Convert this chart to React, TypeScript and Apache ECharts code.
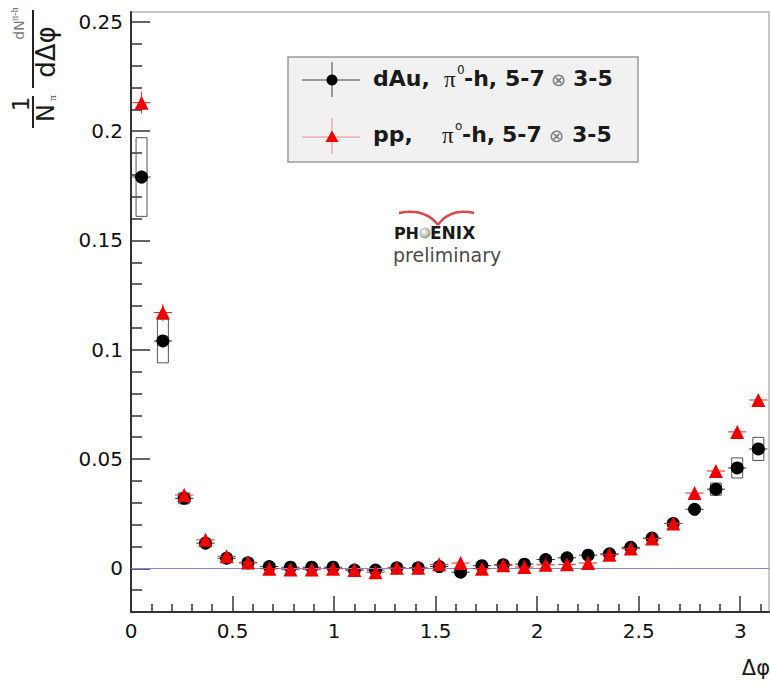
import React, { useEffect, useRef } from "react";
import * as echarts from "echarts";

// Δφ bin centres (30 bins over 0..π)
const BIN_CENTERS = [
  0.052, 0.157, 0.262, 0.367, 0.471, 0.576, 0.681, 0.785, 0.89, 0.995,
  1.1, 1.204, 1.309, 1.414, 1.518, 1.623, 1.728, 1.833, 1.937, 2.042,
  2.147, 2.251, 2.356, 2.461, 2.566, 2.67, 2.775, 2.88, 2.985, 3.089,
];
const DAU_VALUES = [
  0.179, 0.104, 0.032, 0.0115, 0.0046, 0.0025, 0.0008, 0.0005, 0.0005, 0.0005,
  -0.0008, -0.0008, 0.0002, 0.0002, 0.0008, -0.0018, 0.0012, 0.0016, 0.0019, 0.004,
  0.0048, 0.006, 0.0066, 0.0096, 0.0138, 0.0205, 0.027, 0.0362, 0.0459, 0.0546,
];
const PP_VALUES = [
  0.213, 0.117, 0.0335, 0.013, 0.0055, 0.0027, -0.0002, -0.0006, -0.0006, -0.0002,
  -0.0008, -0.0018, 0.0002, 0.0002, 0.0018, 0.0024, -0.0002, 0.0014, 0.0006, 0.0016,
  0.0018, 0.0024, 0.0062, 0.009, 0.0136, 0.0205, 0.0344, 0.0445, 0.0624, 0.077,
];
const DAU_STAT_ERR = [
  0.003, 0.0025, 0.0012, 0.0008, 0.0006, 0.0006, 0.0006, 0.0006, 0.0006, 0.0006,
  0.0006, 0.0006, 0.0006, 0.0006, 0.0006, 0.0006, 0.0006, 0.0006, 0.0006, 0.0006,
  0.0006, 0.0006, 0.0006, 0.0007, 0.0008, 0.0009, 0.001, 0.0012, 0.0014, 0.0016,
];
const PP_STAT_ERR = [
  0.005, 0.004, 0.0012, 0.0008, 0.0006, 0.0006, 0.0006, 0.0006, 0.0006, 0.0006,
  0.0006, 0.0006, 0.0006, 0.0006, 0.0006, 0.0006, 0.0006, 0.0006, 0.0006, 0.0006,
  0.0006, 0.0006, 0.0006, 0.0007, 0.0008, 0.0009, 0.001, 0.0012, 0.0014, 0.0016,
];
const DAU_SYS_ERR = [
  0.018, 0.01, 0.0025, 0, 0, 0, 0, 0, 0, 0,
  0, 0, 0, 0, 0, 0, 0, 0, 0, 0,
  0, 0, 0, 0, 0, 0, 0, 0.0028, 0.0046, 0.0053,
];
const X_MAJOR_TICKS = [0, 0.5, 1, 1.5, 2, 2.5, 3];
const X_MINOR_TICKS = [
  0.1, 0.2, 0.3, 0.4, 0.6, 0.7, 0.8, 0.9, 1.1, 1.2, 1.3, 1.4, 1.6, 1.7, 1.8, 1.9,
  2.1, 2.2, 2.3, 2.4, 2.6, 2.7, 2.8, 2.9, 3.1,
];
const Y_MAJOR_TICKS = [0, 0.05, 0.1, 0.15, 0.2, 0.25];
const Y_MINOR_TICKS = [
  -0.01, 0.01, 0.02, 0.03, 0.04, 0.06, 0.07, 0.08, 0.09, 0.11, 0.12, 0.13, 0.14,
  0.16, 0.17, 0.18, 0.19, 0.21, 0.22, 0.23, 0.24,
];
const X_MIN = 0;
const X_MAX = Math.PI;
const Y_MIN = -0.02;
const Y_MAX = 0.2545;
const HALF_BIN = 0.045;
const BOX_HALF = 0.027;

const FONT = "DejaVu Sans, Liberation Sans, Arial, sans-serif";
const SER = "Liberation Serif, DejaVu Serif, serif";

function errRender(color: string) {
  return (params: any, api: any) => {
    const x = api.value(0);
    const y = api.value(1);
    const e = api.value(2);
    const l = api.coord([x - HALF_BIN, y]);
    const r = api.coord([x + HALF_BIN, y]);
    const t = api.coord([x, y + e]);
    const b = api.coord([x, y - e]);
    return {
      type: "group",
      children: [
        { type: "line", shape: { x1: l[0], y1: l[1], x2: r[0], y2: r[1] }, style: { stroke: color, lineWidth: 1 } },
        { type: "line", shape: { x1: t[0], y1: t[1], x2: b[0], y2: b[1] }, style: { stroke: color, lineWidth: 1 } },
      ],
    };
  };
}

function boxRender(params: any, api: any) {
  const x = api.value(0);
  const y = api.value(1);
  const e = api.value(2);
  const tl = api.coord([x - BOX_HALF, y + e]);
  const br = api.coord([x + BOX_HALF, y - e]);
  return {
    type: "rect",
    shape: { x: tl[0], y: tl[1], width: br[0] - tl[0], height: br[1] - tl[1] },
    style: { fill: "none", stroke: "#555", lineWidth: 1 },
  };
}

function txt(x: number, y: number, text: string, fontSize: number, opts: any = {}) {
  return {
    type: "text",
    x,
    y,
    rotation: opts.rotation || 0,
    z: 100,
    style: {
      text,
      fontSize,
      fontFamily: opts.fontFamily || FONT,
      fontWeight: opts.fontWeight || "normal",
      fill: opts.fill || "#1a1a1a",
      align: opts.align || "left",
      verticalAlign: opts.verticalAlign || "middle",
    },
  };
}

export default function App() {
  const ref = useRef<HTMLDivElement>(null);

  useEffect(() => {
    if (!ref.current) return;
    const chart = echarts.init(ref.current, undefined, { renderer: "svg" });

    const dauPts = BIN_CENTERS.map((x, i) => [x, DAU_VALUES[i]]);
    const ppPts = BIN_CENTERS.map((x, i) => [x, PP_VALUES[i]]);
    const dauErr = BIN_CENTERS.map((x, i) => [x, DAU_VALUES[i], DAU_STAT_ERR[i]]);
    const ppErr = BIN_CENTERS.map((x, i) => [x, PP_VALUES[i], PP_STAT_ERR[i]]);
    const dauSys = BIN_CENTERS.map((x, i) => [x, DAU_VALUES[i], DAU_SYS_ERR[i]]).filter((d) => d[2] > 0);

    const mY1 = 80;
    const mY2 = 137;
    const tY1 = 78;
    const tY2 = 134;
    const B = { fontWeight: "bold" };

    const graphic: any[] = [
      // legend box
      { type: "rect", z: 90, shape: { x: 288, y: 57, width: 350, height: 105 }, style: { fill: "#f1f1f1", stroke: "#9a9a9a", lineWidth: 1.5 } },
      { type: "line", z: 91, shape: { x1: 302, y1: mY1, x2: 360, y2: mY1 }, style: { stroke: "#444", lineWidth: 1 } },
      { type: "line", z: 91, shape: { x1: 332, y1: 62, x2: 332, y2: 97 }, style: { stroke: "#444", lineWidth: 1 } },
      { type: "circle", z: 92, shape: { cx: 332, cy: mY1, r: 5.5 }, style: { fill: "#000" } },
      { type: "line", z: 91, shape: { x1: 302, y1: mY2, x2: 360, y2: mY2 }, style: { stroke: "#f08a8a", lineWidth: 1 } },
      { type: "line", z: 91, shape: { x1: 332, y1: 118, x2: 332, y2: 154 }, style: { stroke: "#f08a8a", lineWidth: 1 } },
      { type: "polygon", z: 92, shape: { points: [[332, mY2 - 6.5], [338.5, mY2 + 5], [325.5, mY2 + 5]] }, style: { fill: "#ee0000" } },
      txt(373, tY1, "dAu,", 22, B),
      txt(444, tY1 + 1, "π", 23, { fontFamily: SER }),
      txt(457, tY1 - 8, "0", 12),
      txt(464, tY1, "-h,", 22, B),
      txt(505, tY1, "5-7", 22, B),
      txt(551, tY1 + 1, "⊗", 18, { fill: "#777" }),
      txt(573, tY1, "3-5", 22, B),
      txt(373, tY2, "pp,", 22, B),
      txt(442, tY2 + 1, "π", 23, { fontFamily: SER }),
      txt(455, tY2 - 8, "o", 12),
      txt(462, tY2, "-h,", 22, B),
      txt(502, tY2, "5-7", 22, B),
      txt(549, tY2 + 1, "⊗", 18, { fill: "#777" }),
      txt(572, tY2, "3-5", 22, B),

      // PHENIX preliminary logo
      { type: "bezierCurve", z: 95, shape: { x1: 399, y1: 213, x2: 438, y2: 225, cpx1: 425, cpy1: 208 }, style: { stroke: "#d84848", lineWidth: 2.5, fill: "none" } },
      { type: "bezierCurve", z: 95, shape: { x1: 438, y1: 225, x2: 474, y2: 213, cpx1: 450, cpy1: 208 }, style: { stroke: "#d84848", lineWidth: 2.5, fill: "none" } },
      txt(419, 233, "PH", 16, { fontWeight: "bold", align: "right" }),
      {
        type: "circle", z: 95, shape: { cx: 425, cy: 233, r: 5.5 },
        style: { fill: { type: "radial", x: 0.4, y: 0.4, r: 0.7, colorStops: [{ offset: 0, color: "#ffffff" }, { offset: 1, color: "#8a8a8a" }] } },
      },
      txt(430, 233, "ENIX", 17, { fontWeight: "bold" }),
      txt(393, 255, "preliminary", 19, { fill: "#4a4a4a" }),

      // y-axis title (rotated)
      { type: "line", z: 100, shape: { x1: 33, y1: 10, x2: 33, y2: 88 }, style: { stroke: "#222", lineWidth: 2 } },
      { type: "line", z: 100, shape: { x1: 33, y1: 96, x2: 33, y2: 128 }, style: { stroke: "#222", lineWidth: 2 } },
      txt(21, 104, "1", 23, { rotation: Math.PI / 2, align: "center" }),
      txt(46, 113, "N", 24, { rotation: Math.PI / 2, align: "center" }),
      txt(52, 98, "π", 11, { rotation: Math.PI / 2, align: "center", fontFamily: SER }),
      txt(46, 52, "dΔφ", 26, { rotation: Math.PI / 2, align: "center" }),
      txt(19, 30, "dN", 14, { rotation: Math.PI / 2, align: "center", fill: "#777" }),
      txt(14, 14, "π-h", 10, { rotation: Math.PI / 2, align: "center", fill: "#555", fontFamily: SER }),

      // x-axis title
      txt(770, 668, "Δφ", 21, { align: "right" }),
    ];

    const axisLabelStyle = { fontSize: 20, fontFamily: FONT, color: "#111" };

    chart.setOption({
      animation: false,
      backgroundColor: "#ffffff",
      grid: { left: 131, top: 12, width: 638, height: 600, show: true, borderColor: "#c8c8c8", borderWidth: 2, backgroundColor: "transparent" },
      xAxis: [
        {
          type: "value", min: X_MIN, max: X_MAX, position: "bottom",
          axisLine: { show: true, onZero: false, lineStyle: { color: "#333", width: 2 } },
          axisTick: { show: true, inside: true, length: 16, customValues: X_MAJOR_TICKS, lineStyle: { color: "#333", width: 1.5 } },
          axisLabel: { show: true, customValues: X_MAJOR_TICKS, margin: 9, ...axisLabelStyle, formatter: (v: number) => String(v) },
          splitLine: { show: false },
        },
        {
          type: "value", min: X_MIN, max: X_MAX, position: "bottom", offset: 0,
          axisLine: { show: false, onZero: false },
          axisTick: { show: true, inside: true, length: 8, customValues: X_MINOR_TICKS, lineStyle: { color: "#333", width: 1.5 } },
          axisLabel: { show: false },
          splitLine: { show: false },
        },
      ],
      yAxis: [
        {
          type: "value", min: Y_MIN, max: Y_MAX, position: "left",
          axisLine: { show: true, onZero: false, lineStyle: { color: "#333", width: 2 } },
          axisTick: { show: true, inside: true, length: 19, customValues: Y_MAJOR_TICKS, lineStyle: { color: "#333", width: 1.5 } },
          axisLabel: { show: true, customValues: Y_MAJOR_TICKS, margin: 8, ...axisLabelStyle, formatter: (v: number) => String(v) },
          splitLine: { show: false },
        },
        {
          type: "value", min: Y_MIN, max: Y_MAX, position: "left", offset: 0,
          axisLine: { show: false, onZero: false },
          axisTick: { show: true, inside: true, length: 11, customValues: Y_MINOR_TICKS, lineStyle: { color: "#333", width: 1.5 } },
          axisLabel: { show: false },
          splitLine: { show: false },
        },
      ],
      series: [
        {
          type: "custom", name: "dAu sys", renderItem: boxRender, data: dauSys, encode: { x: 0, y: 1 }, z: 2, silent: true,
        },
        {
          type: "custom", name: "dAu stat", renderItem: errRender("#333"), data: dauErr, encode: { x: 0, y: 1 }, z: 3, silent: true,
        },
        {
          type: "scatter", name: "dAu", data: dauPts, symbol: "circle", symbolSize: 13, itemStyle: { color: "#000", opacity: 1 }, z: 4,
          markLine: {
            silent: true, symbol: "none", label: { show: false },
            lineStyle: { color: "#8484dc", width: 1.2, type: "solid" },
            data: [{ yAxis: 0 }],
          },
        },
        {
          type: "custom", name: "pp stat", renderItem: errRender("#ee2222"), data: ppErr, encode: { x: 0, y: 1 }, z: 5, silent: true,
        },
        {
          type: "scatter", name: "pp", data: ppPts, symbol: "triangle", symbolSize: 14, itemStyle: { color: "#ee0000", opacity: 1 }, z: 6,
        },
      ],
      graphic,
    });

    return () => chart.dispose();
  }, []);

  return (
    <div
      ref={ref}
      style={{ position: "fixed", left: 0, top: 0, width: 770, height: 684, background: "#fff" }}
    />
  );
}
